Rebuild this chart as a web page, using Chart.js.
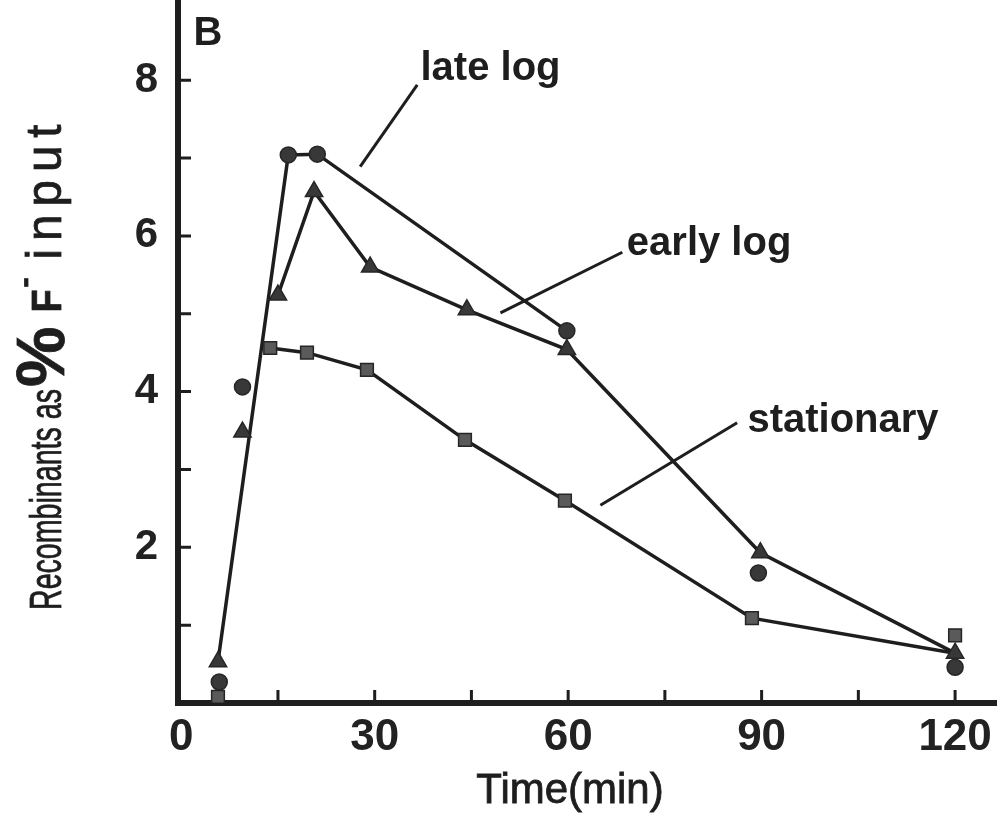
<!DOCTYPE html>
<html>
<head>
<meta charset="utf-8">
<script src="https://cdn.jsdelivr.net/npm/chart.js@4/dist/chart.umd.min.js"></script>
<style>
  body { margin: 0; background: #fff; }
  #wrap { width: 997px; height: 819px; }
</style>
</head>
<body>
<div id="wrap"><canvas id="chart"></canvas></div>
<script>
// late log (circles)
const lateTime = [5.9, 9.5, 16.6, 21.1, 59.8, 89.5, 120];
const lateValue = [0.27, 4.06, 7.04, 7.05, 4.78, 1.67, 0.46];
// early log (triangles)
const earlyTime = [5.7, 9.5, 15.0, 20.6, 29.3, 44.3, 59.8, 89.8, 120];
const earlyValue = [0.53, 3.48, 5.24, 6.57, 5.6, 5.05, 4.54, 1.93, 0.64];
// stationary (squares)
const statTime = [5.7, 13.8, 19.5, 28.8, 44, 59.5, 88.5, 120];
const statValue = [0.08, 4.56, 4.5, 4.28, 3.38, 2.6, 1.09, 0.87];

const xTicks = [0, 15, 30, 45, 60, 75, 90, 105, 120];
const xLabels = [0, 30, 60, 90, 120];
const yTicks = [1, 2, 3, 4, 5, 6, 7, 8];
const yLabels = [2, 4, 6, 8];

// the hand drawn curves only go through some of the points
const pick = (t, v, idx) => idx.map(i => ({ x: t[i], y: v[i] }));
const lateCurve = [{ x: earlyTime[0], y: earlyValue[0] }, ...pick(lateTime, lateValue, [2, 3, 4])];
const earlyCurve = pick(earlyTime, earlyValue, [2, 3, 4, 5, 6, 7, 8]);
const statCurve = [...pick(statTime, statValue, [1, 2, 3, 4, 5, 6]), { x: earlyTime[8], y: earlyValue[8] }];

const INK = "#1e1e1e";
const SANS = '"Liberation Sans", Arial, sans-serif';

function curve(data) {
    return {
        data, showLine: true, pointRadius: 0, borderColor: INK,
        borderWidth: 3.5, tension: 0, fill: false, order: 2
    };
}
function marks(t, v, style, radius, fill) {
    return {
        data: t.map((x, i) => ({ x, y: v[i] })), showLine: false,
        pointStyle: style, pointRadius: radius, backgroundColor: fill,
        borderColor: "#262626", borderWidth: 1.5, order: 1
    };
}

// squeezed text, drawn in the current frame
function squeezed(ctx, txt, x, y, font, sx, spacing) {
    ctx.font = font;
    ctx.save();
    ctx.translate(x, y);
    ctx.scale(sx, 1);
    ctx.lineWidth = 0.8;
    ctx.strokeStyle = INK;
    let cx = 0;
    for (const ch of txt) {
        ctx.fillText(ch, cx, 0);
        ctx.strokeText(ch, cx, 0);
        cx += ctx.measureText(ch).width + (spacing || 0) / sx;
    }
    ctx.restore();
    return x + cx * sx;
}

// no extra room round the plot: axes sit on the canvas edges
const noPad = s => { s.paddingTop = 0; s.paddingBottom = 0; s.paddingLeft = 0; s.paddingRight = 0; };

const decor = {
    id: "decor",
    afterDraw(chart) {
        const { ctx, scales: { x, y } } = chart;
        ctx.save();
        ctx.strokeStyle = INK;
        ctx.fillStyle = INK;

        // inward tick marks
        ctx.lineWidth = 3;
        ctx.beginPath();
        xTicks.filter(v => v > 0).forEach(v => {
            const px = x.getPixelForValue(v);
            ctx.moveTo(px, y.bottom);
            ctx.lineTo(px, y.bottom - 13);
        });
        yTicks.forEach(v => {
            const py = y.getPixelForValue(v);
            ctx.moveTo(x.left, py);
            ctx.lineTo(x.left + 13, py);
        });
        ctx.stroke();

        // labels with leader lines
        const notes = [
            { text: "late log", at: [37.1, 8.0], from: [36.6, 7.94], to: [27.75, 6.89] },
            { text: "early log", at: [69.1, 5.76], from: [68.4, 5.79], to: [49.5, 5.01] },
            { text: "stationary", at: [87.8, 3.48], from: [86.2, 3.6], to: [65, 2.54] }
        ];
        ctx.lineWidth = 3;
        ctx.textBaseline = "alphabetic";
        ctx.textAlign = "left";
        ctx.font = "bold 40px " + SANS;
        notes.forEach(n => {
            ctx.beginPath();
            ctx.moveTo(x.getPixelForValue(n.from[0]), y.getPixelForValue(n.from[1]));
            ctx.lineTo(x.getPixelForValue(n.to[0]), y.getPixelForValue(n.to[1]));
            ctx.stroke();
            ctx.fillText(n.text, x.getPixelForValue(n.at[0]), y.getPixelForValue(n.at[1]));
        });

        // panel letter
        ctx.font = "bold 40px " + SANS;
        ctx.fillText("B", x.getPixelForValue(1.9), y.getPixelForValue(8.45));

        // x title
        ctx.textAlign = "center";
        ctx.font = "42px " + SANS;
        ctx.fillText("Time(min)", 570, 803);
        ctx.lineWidth = 0.8;
        ctx.strokeText("Time(min)", 570, 803);

        // y title, rotated
        ctx.textAlign = "left";
        ctx.translate(61, 610);
        ctx.rotate(-Math.PI / 2);
        let p = squeezed(ctx, "Recombinants as", 0, 0, "44px " + SANS, 0.65);
        p = squeezed(ctx, "%", p + 2, 3, "bold 68px " + SANS, 1);
        p = squeezed(ctx, "F", p + 14, 0, "bold 42px " + SANS, 0.9);
        squeezed(ctx, "-", p + 2, -27, "bold 30px " + SANS, 1);
        squeezed(ctx, "input", p + 30, 0, "50px " + SANS, 0.95, 8);
        ctx.restore();
    }
};

new Chart(document.getElementById("chart"), {
    type: "scatter",
    data: {
        datasets: [
            marks(lateTime, lateValue, "circle", 8, "#383838"),
            marks(earlyTime, earlyValue, "triangle", 10, "#383838"),
            marks(statTime, statValue, "rect", 9, "#5a5a5a"),
            curve(lateCurve),
            curve(earlyCurve),
            curve(statCurve)
        ]
    },
    options: {
        responsive: true,
        maintainAspectRatio: false,
        devicePixelRatio: 1,
        animation: false,
        events: [],
        layout: { padding: 0, autoPadding: false },
        plugins: { legend: { display: false }, tooltip: { enabled: false } },
        scales: {
            x: {
                type: "linear", min: -0.5, max: 126.5,
                grid: { display: false, drawTicks: false },
                border: { display: true, color: INK, width: 6 },
                afterBuildTicks: s => { s.ticks = xTicks.map(v => ({ value: v })); },
                afterFit: s => { s.height = 116; noPad(s); },
                ticks: {
                    padding: 8, color: "#222",
                    font: { family: SANS, size: 44, weight: "bold" },
                    maxRotation: 0, autoSkip: false,
                    callback: v => xLabels.includes(v) ? String(v) : ""
                }
            },
            y: {
                min: 0, max: 9.03,
                grid: { display: false, drawTicks: false },
                border: { display: true, color: INK, width: 6 },
                afterBuildTicks: s => { s.ticks = yTicks.map(v => ({ value: v })); },
                afterFit: s => { s.width = 178; noPad(s); },
                ticks: {
                    padding: 20, color: "#222",
                    font: { family: SANS, size: 42, weight: "bold" },
                    autoSkip: false,
                    callback: v => yLabels.includes(v) ? String(v) : ""
                }
            }
        }
    },
    plugins: [decor]
});
</script>
</body>
</html>
